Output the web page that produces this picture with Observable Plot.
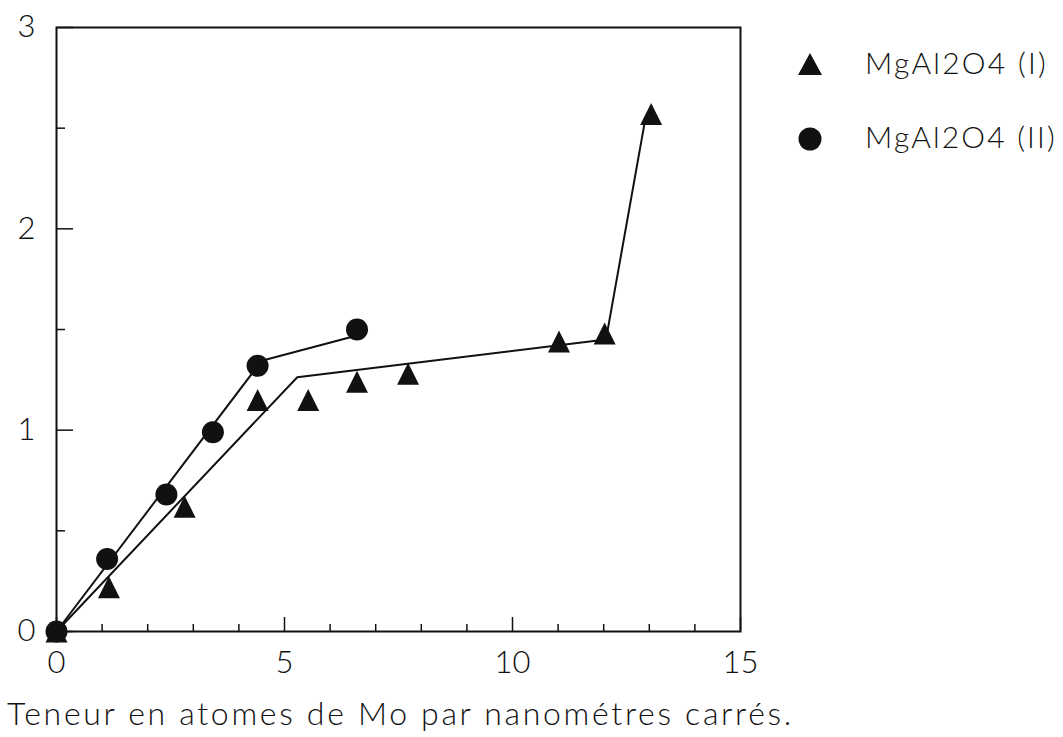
<!DOCTYPE html>
<html>
<head>
<meta charset="utf-8">
<script src="https://cdn.jsdelivr.net/npm/d3@7"></script>
<script src="https://cdn.jsdelivr.net/npm/@observablehq/plot@0.6"></script>
<style>
  html, body { margin: 0; padding: 0; background: #fff; }
  #page { position: relative; width: 1063px; height: 737px; overflow: hidden; font-family: Lato, "DejaVu Sans", sans-serif; font-weight: 300; color: #111; }
  #chart { position: absolute; left: 0; top: 0; }
  .legend-text { position: absolute; left: 865px; font-size: 30px; white-space: nowrap; line-height: 1; }
  #xtitle { position: absolute; left: 7px; top: 697px; font-size: 32px; white-space: nowrap; line-height: 1; }
</style>
</head>
<body>
<div id="page">
  <div id="chart"></div>
  <svg id="legend-symbols" width="1063" height="200" style="position:absolute;left:0;top:0"></svg>
  <div id="legend"></div>
  <div id="xtitle"></div>
</div>
<script>
// Mo surface loading (atoms per nm²) vs. measured ratio, two MgAl2O4 supports
const seriesNames = ["MgAl2O4 (I)", "MgAl2O4 (II)"];

const xI = [0, 1.15, 2.81, 4.41, 5.52, 6.59, 7.71, 11.02, 12.02, 13.04];
const yI = [0, 0.22, 0.62, 1.15, 1.15, 1.24, 1.28, 1.44, 1.48, 2.57];

const xII = [0, 1.11, 2.41, 3.43, 4.41, 6.59];
const yII = [0, 0.36, 0.68, 0.99, 1.32, 1.50];

// hand-drawn trend lines through each series
const fitXI = [0, 5.28, 12.05, 12.9];
const fitYI = [0, 1.263, 1.45, 2.53];
const fitXII = [0, 4.5, 6.59];
const fitYII = [0, 1.345, 1.47];

const xMajorTicks = [0, 5, 10, 15];
const xMinorTicks = [1, 2, 3, 4, 6, 7, 8, 9, 11, 12, 13, 14];
const yMajorTicks = [0, 1, 2, 3];
const yMinorTicks = [0.5, 1.5, 2.5];

const xTitle = "Teneur en atomes de Mo par nanométres carrés.";

const zip = (xs, ys) => xs.map((x, i) => ({x, y: ys[i]}));
const pointsI = zip(xI, yI);
const pointsII = zip(xII, yII);
const lineI = zip(fitXI, fitYI);
const lineII = zip(fitXII, fitYII);

// upward triangle whose height equals its width (2r)
const triangleUp = {
  draw(ctx, size) {
    const r = Math.sqrt(size / Math.PI);
    ctx.moveTo(0, -r);
    ctx.lineTo(r, r);
    ctx.lineTo(-r, r);
    ctx.closePath();
  }
};

const font = "Lato, 'DejaVu Sans', sans-serif";
const intFormat = d3.format("d");

const chart = Plot.plot({
  width: 1063,
  height: 680,
  marginLeft: 56,
  marginRight: 323,
  marginTop: 27,
  marginBottom: 49,
  style: {fontFamily: font, fontWeight: 300, background: "white", color: "#111"},
  x: {domain: [0, 15]},
  y: {domain: [0, 3]},
  marks: [
    // inward ticks
    Plot.axisX(xMinorTicks, {tickSize: 7, dy: -7, fill: "none", label: null, strokeWidth: 1.5}),
    Plot.axisX(xMajorTicks, {tickSize: 14, dy: -14, fill: "none", label: null, strokeWidth: 1.5}),
    Plot.axisY(yMinorTicks, {tickSize: 9, dx: 9, fill: "none", label: null, strokeWidth: 1.5}),
    Plot.axisY(yMajorTicks, {tickSize: 17, dx: 17, fill: "none", label: null, strokeWidth: 1.5}),
    // tick labels
    Plot.axisX(xMajorTicks, {tickSize: 0, tickPadding: 19, fontSize: 31, tickFormat: intFormat, label: null}),
    Plot.axisY(yMajorTicks, {tickSize: 0, tickPadding: 21, fontSize: 31, tickFormat: intFormat, label: null}),
    Plot.frame({stroke: "#111", strokeWidth: 2}),
    Plot.line(lineI, {x: "x", y: "y", stroke: "#111", strokeWidth: 2}),
    Plot.line(lineII, {x: "x", y: "y", stroke: "#111", strokeWidth: 2}),
    Plot.dot(pointsI, {x: "x", y: "y", symbol: triangleUp, r: 11, fill: "#111", stroke: "none"}),
    Plot.dot(pointsII, {x: "x", y: "y", symbol: "circle", r: 11, fill: "#111", stroke: "none"})
  ]
});
document.getElementById("chart").appendChild(chart);

// legend
const legendRows = [
  {name: seriesNames[0], cy: 64, baseline: 75, width: 183, symbol: "triangle"},
  {name: seriesNames[1], cy: 139, baseline: 149, width: 192, symbol: "circle"}
];
const symSvg = d3.select("#legend-symbols");
const legend = document.getElementById("legend");

function fitWidth(el, target) {
  el.style.letterSpacing = "0px";
  const w = el.getBoundingClientRect().width;
  const n = el.textContent.length;
  el.style.letterSpacing = ((target - w) / n) + "px";
}

for (const row of legendRows) {
  if (row.symbol === "triangle") {
    symSvg.append("path")
      .attr("d", `M810,${row.cy - 11}L822,${row.cy + 11}L798,${row.cy + 11}Z`)
      .attr("fill", "#111");
  } else {
    symSvg.append("circle").attr("cx", 810).attr("cy", row.cy).attr("r", 11.5).attr("fill", "#111");
  }
  const t = document.createElement("div");
  t.className = "legend-text";
  t.textContent = row.name;
  legend.appendChild(t);
  // place so the baseline lands where wanted
  t.style.top = (row.baseline - 30 * 0.93) + "px";
  fitWidth(t, row.width);
}

const title = document.getElementById("xtitle");
title.textContent = xTitle;
fitWidth(title, 787);
</script>
</body>
</html>
